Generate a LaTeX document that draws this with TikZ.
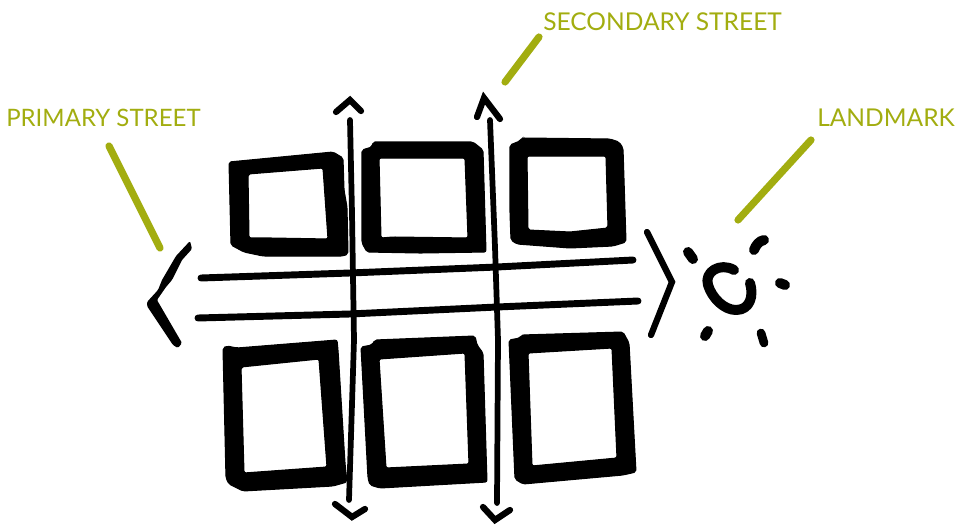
\documentclass[tikz,border=0pt]{standalone}
\usepackage{fontspec}
\setmainfont{Lato}
\definecolor{olive}{HTML}{A2AD10}
\tikzset{
  block/.style={fill=black,draw=black,line width=0.8pt,even odd rule,rounded corners=1.5pt},
  vstreet/.style={draw=black,line width=4.3pt,line cap=round,line join=round},
  hstreet/.style={draw=black,line width=5.2pt,line cap=round,line join=round},
  head/.style={draw=black,line width=4.7pt,line cap=round,line join=miter},
  ray/.style={draw=black,line width=7.5pt,line cap=round},
  leader/.style={draw=olive,line width=5.4pt,line cap=round},
  tag/.style={text=olive,font=\fontsize{18.4pt}{20pt}\selectfont,inner sep=0pt,anchor=base west},
}
\begin{document}
\begin{tikzpicture}[x=0.75pt,y=-0.75pt]
\useasboundingbox (0,0) rectangle (958,525);
% top blocks
\path[block] (229,162) -- (333,152) -- (343,158) -- (344,190) -- (347,207) -- (348,254) -- (343,256) -- (263,256) -- (244,252) -- (231,245) -- cycle
  (248,174) -- (323,168) -- (328,239) -- (270,238) -- (249,238) -- cycle;
\path[block] (362,150) -- (372,147) -- (373,142) -- (473,142) -- (483,150) -- (486,252) -- (420,253) -- (367,252) -- (362,243) -- cycle
  (379,158) -- (465,158) -- (468,238) -- (393,237) -- (381,238) -- cycle;
\path[block] (510,145) -- (520,141) -- (522,138) -- (610,139) -- (619,142) -- (623,148) -- (626,242) -- (613,246) -- (570,248) -- (517,244) -- (511,240) -- (510,213) -- cycle
  (527,156) -- (606,156) -- (608,228) -- (570,232) -- (528,230) -- cycle;
% bottom blocks
\path[block] (223,348) -- (227,346) -- (237,348) -- (337,340) -- (338,350) -- (345,463) -- (347,482) -- (333,486) -- (243,491) -- (229,484) -- (226,478) -- cycle
  (241,367) -- (319,359) -- (327,467) -- (244,473) -- cycle;
\path[block] (361,347) -- (372,345) -- (375,340) -- (475,336) -- (477,345) -- (483,353) -- (487,482) -- (380,488) -- (370,485) -- (368,478) -- cycle
  (379,359) -- (465,353) -- (469,464) -- (386,468) -- cycle;
\path[block] (509,340) -- (520,338) -- (522,335) -- (623,332) -- (629,343) -- (636,472) -- (623,475) -- (523,484) -- (515,479) -- cycle
  (528,353) -- (612,348) -- (617,458) -- (532,466) -- cycle;
% named ends
\coordinate (v1a) at (350,120); \coordinate (v1m) at (354,340); \coordinate (v1b) at (349,500);
\coordinate (v2a) at (490,120); \coordinate (v2m) at (498,340); \coordinate (v2b) at (497,503);
\coordinate (h1a) at (201,278); \coordinate (h1m) at (350,273); \coordinate (h1n) at (497,267); \coordinate (h1b) at (633,260);
\coordinate (h2a) at (198,318); \coordinate (h2m) at (350,314); \coordinate (h2n) at (497,307); \coordinate (h2b) at (638,301);
% streets
\draw[vstreet] (v1a) -- (352,213) -- (v1m) -- (v1b);
\draw[vstreet] (v2a) -- (495,247) -- (v2m) -- (v2b);
\draw[hstreet] (h1a) -- (h1m) -- (h1n) -- (h1b);
\draw[hstreet] (h2a) -- (h2m) -- (h2n) -- (h2b);
% arrowheads
\draw[head] (336,112) -- (350,100) -- (361,111);
\draw[head] (477,117) -- (484,98) -- (500,119);
\draw[head] (335,504) -- (352,517) -- (365,509);
\draw[head] (483,507) -- (495,520) -- (510,510);
\fill[rounded corners=1pt] (190,241) -- (192,249) -- (182,260) -- (172,280) -- (166,287) -- (157,300) -- (182,343) -- (178,348) -- (173,345) -- (147,306) -- (147,302) -- (158,290) -- (162,280) -- (176,256) -- cycle;
\draw[head] (647,232) -- (672,282) -- (651,335);
% landmark
\draw[draw=black,line width=7.5pt,line cap=round,line join=round] (734,270) .. controls (720,262) and (704,272) .. (708,285) .. controls (712,298) and (724,310) .. (736,310) .. controls (750,310) and (754,296) .. (750,283);
\draw[ray] (688,252) -- (693,259);
\draw[ray] (764,240) .. controls (759,241) and (756,245) .. (754,250);
\draw[ray] (780,283) -- (785,285);
\draw[ray] (708,331) -- (705,336);
\draw[line width=6.5pt,line cap=round] (761,333) -- (764,343);
% leaders and labels
\node[tag,font=\fontsize{18pt}{20pt}\selectfont] (primary) at (6,126) {PRIMARY STREET};
\node[tag] (secondary) at (543,30) {SECONDARY STREET};
\node[tag] (landmark) at (817,126) {LANDMARK};
\coordinate (pa) at (109,146); \coordinate (pb) at (160,248);
\coordinate (sa) at (539,37);  \coordinate (sb) at (505,82);
\coordinate (la) at (811,140); \coordinate (lb) at (738,220);
\draw[leader] (pa) -- (pb);
\draw[leader] (sa) -- (sb);
\draw[leader] (la) -- (lb);
\end{tikzpicture}
\end{document}
